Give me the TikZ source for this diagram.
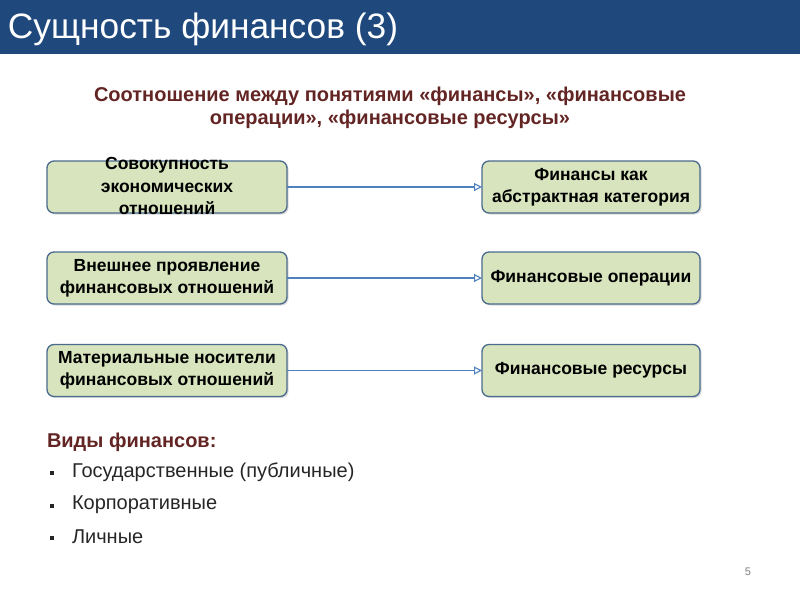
\documentclass[tikz,border=0pt]{standalone}
\usepackage{fontspec}
\setmainfont{Liberation Sans}
\usetikzlibrary{arrows.meta,shadows}
\definecolor{titlebg}{HTML}{1F497D}
\definecolor{boxfill}{HTML}{D7E4BD}
\definecolor{boxline}{HTML}{4A6A8E}
\definecolor{arrowc}{HTML}{4F81BD}
\definecolor{maroon}{HTML}{632523}
\definecolor{textgray}{HTML}{262626}
\tikzset{
  every node/.style={inner sep=0pt, outer sep=0pt},
  box/.style={draw=boxline, line width=1.3pt, fill=boxfill, rounded corners=7pt,
    drop shadow={shadow xshift=1.5pt, shadow yshift=-1.5pt, opacity=0.3},
    align=center, font=\bfseries\fontsize{17.5}{22}\selectfont},
  conn/.style={draw=arrowc, line width=1.1pt, -{Triangle[open, length=8pt, width=8pt]}},
  listitem/.style={anchor=west, font=\fontsize{20}{22}\selectfont, text=textgray},
  bul/.style={fill=black!85, minimum size=4.5pt}
}
\begin{document}
\begin{tikzpicture}[x=1pt,y=-1pt]
\useasboundingbox (0,0) rectangle (800,600);
\fill[titlebg] (0,0) rectangle (800,54);
\node[anchor=west, text=white, font=\fontsize{35.3}{40}\selectfont] (title) at (8,29) {Сущность финансов (3)};
\node[align=center, text=maroon, font=\bfseries\fontsize{20}{23}\selectfont] (sub) at (390,107.5)
  {Соотношение между понятиями «финансы», «финансовые\\операции», «финансовые ресурсы»};

\node[box, minimum width=240pt, minimum height=52pt] (l1) at (167,187) {};
\node[align=center, font=\bfseries\fontsize{17.5}{22.5}\selectfont] (l1t) at (167,186) {Совокупность\\экономических\\отношений};
\node[box, minimum width=240pt, minimum height=52pt] (l2) at (167,278) {Внешнее проявление\\финансовых отношений};
\node[box, minimum width=240pt, minimum height=52pt] (l3) at (167,370.5) {Материальные носители\\финансовых отношений};

\node[box, minimum width=218pt, minimum height=52pt] (r1) at (591,187) {Финансы как\\абстрактная категория};
\node[box, minimum width=218pt, minimum height=52pt] (r2) at (591,278) {Финансовые операции};
\node[box, minimum width=218pt, minimum height=52pt] (r3) at (591,370.5) {Финансовые ресурсы};

\draw[conn] (l1.east) -- (r1.west);
\draw[conn] (l2.east) -- (r2.west);
\draw[conn] (l3.east) -- (r3.west);

\node[anchor=west, text=maroon, font=\bfseries\fontsize{20}{22}\selectfont] (vid) at (47,442) {Виды финансов:};
\node[bul] (b1) at (52,473) {};
\node[listitem] (i1) at (72,472) {Государственные (публичные)};
\node[bul] (b2) at (52,506) {};
\node[listitem] (i2) at (72,505) {Корпоративные};
\node[bul] (b3) at (52,538) {};
\node[listitem] (i3) at (72,537) {Личные};

\node[text=gray, font=\fontsize{11}{13}\selectfont] (pg) at (748,572) {5};
\end{tikzpicture}
\end{document}
